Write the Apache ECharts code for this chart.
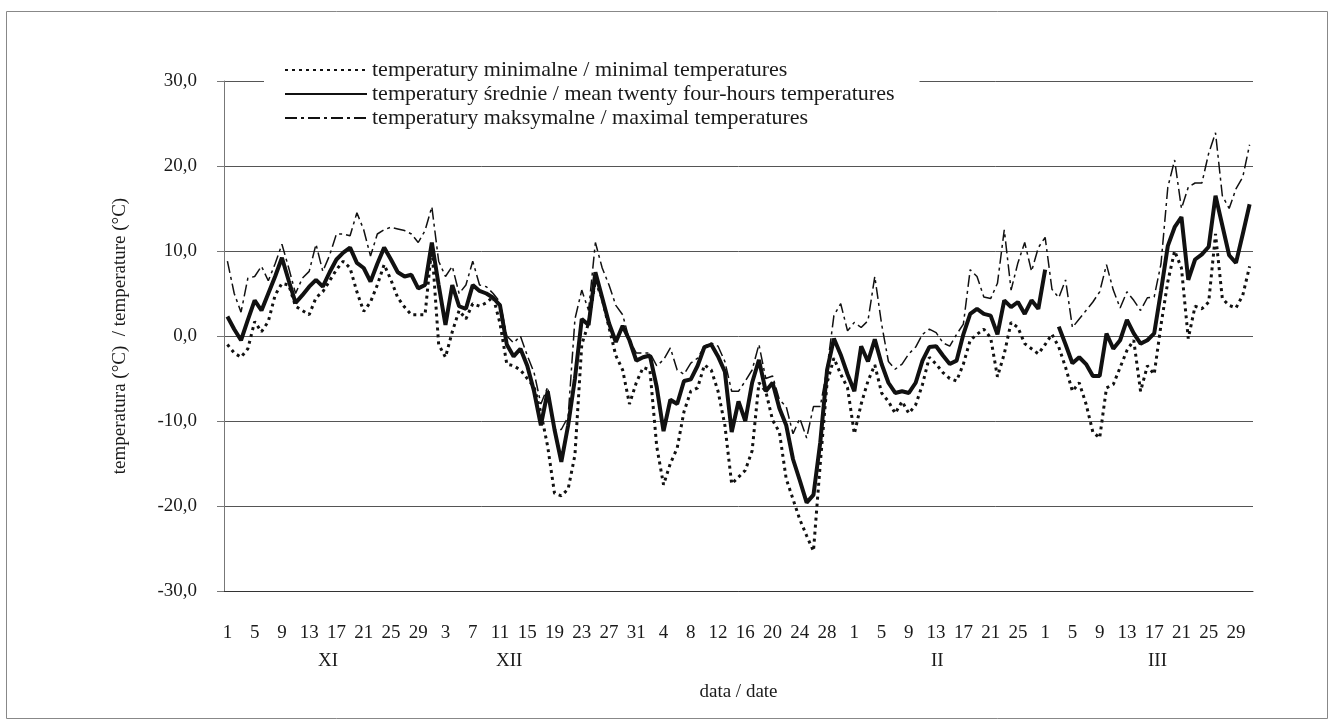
<!DOCTYPE html>
<html>
<head>
<meta charset="utf-8">
<script src="https://cdn.jsdelivr.net/npm/echarts@6/dist/echarts.min.js"></script>
<style>
  html, body { margin: 0; padding: 0; background: #fff; }
  #chart { width: 1334px; height: 725px; }
</style>
</head>
<body>
<div id="chart"></div>
<script>
// miesiące: XI, XII, I, II, III
var monthNames = ['XI', 'XII', 'I', 'II', 'III'];
var monthDays = [30, 31, 31, 28, 31];
var monthLabels = ['XI', 'XII', 'II', 'III'];
var yTicks = [-30, -20, -10, 0, 10, 20, 30];

// temperatury minimalne
var tMin = [
    -1.0, -2.0, -2.5, -1.5, 1.7, 0.5, 1.7, 4.8, 6.2, 6.0,
    3.5, 3.0, 2.5, 4.5, 5.2, 6.5, 7.8, 8.8, 8.0, 5.2,
    2.9, 4.0, 6.0, 8.4, 6.6, 4.5, 3.4, 2.5, 2.5, 2.5,
    10.5, -1.0, -2.5, 0.5, 3.0, 2.0, 3.8, 3.5, 3.9, 4.6,
    1.5, -3.3, -3.5, -4.0, -5.0, -6.0, -9.0, -13.0, -18.5, -18.8,
    -18.0, -14.0, -1.0, 1.5, 6.5, 4.4, 1.0, -2.3, -4.0, -8.0,
    -5.5, -3.7, -4.0, -13.0, -17.5, -15.0, -13.2, -8.9, -6.5, -6.1,
    -3.4, -4.0, -6.5, -10.5, -17.4, -16.6, -15.8, -13.5, -5.5, -6.5,
    -9.9, -11.3, -16.8, -19.2, -21.6, -23.5, -25.3, -15.0, -5.5, -2.6,
    -4.5, -6.1, -11.5, -8.0, -5.3, -3.4, -6.7, -7.7, -9.1, -7.7,
    -9.1, -8.1, -5.7, -2.5, -3.3, -4.3, -5.0, -5.3, -3.3, -0.5,
    0.2, 0.8, -0.2, -4.8, -2.1, 1.6, 1.0, -0.9, -1.5, -2.1,
    -1.0, 0.2, -1.3, -3.7, -6.5, -5.5, -8.0, -11.3, -12.0, -6.1,
    -5.7, -3.7, -1.7, -0.5, -6.5, -3.5, -4.5, 1.3, 6.4, 10.0,
    8.0, -0.3, 3.5, 3.2, 4.0, 12.0, 4.4, 3.6, 3.3, 4.8,
    8.2
];

// temperatury średnie
var tMean = [
    2.3, 0.8, -0.5, 1.9, 4.2, 3.0, 5.0, 7.0, 9.2, 6.5,
    3.9, 4.8, 5.8, 6.6, 5.8, 7.5, 9.0, 9.8, 10.4, 8.6,
    8.0, 6.4, 8.5, 10.4, 9.0, 7.5, 7.0, 7.2, 5.6, 6.0,
    11.0, 6.0, 1.3, 6.0, 3.5, 3.2, 6.0, 5.3, 5.0, 4.5,
    3.6, -1.0, -2.4, -1.5, -3.5, -6.5, -10.5, -6.5, -11.0, -14.8,
    -10.5, -5.0, 2.0, 1.3, 7.5, 4.5, 1.5, -0.7, 1.2, -0.5,
    -2.9, -2.5, -2.3, -6.0, -11.2, -7.5, -8.0, -5.3, -5.1, -3.5,
    -1.3, -1.0, -2.4, -4.2, -11.3, -7.7, -10.0, -5.5, -2.8, -6.5,
    -5.5, -8.5, -10.5, -14.5, -17.0, -19.6, -18.7, -12.5, -4.0, -0.3,
    -2.2, -4.5, -6.5, -1.2, -3.0, -0.4, -3.3, -5.5, -6.7, -6.5,
    -6.7, -5.5, -2.9, -1.3, -1.2, -2.3, -3.3, -2.9, 0.2, 2.6,
    3.2, 2.6, 2.4, 0.2, 4.2, 3.4, 4.0, 2.6, 4.2, 3.2,
    7.8, null, 1.1, -1.0, -3.2, -2.5, -3.3, -4.7, -4.7, 0.3,
    -1.5, -0.5, 1.9, 0.3, -0.9, -0.5, 0.3, 5.3, 10.6, 12.8,
    14.0, 6.6, 9.0, 9.6, 10.5, 16.5, 13.0, 9.5, 8.6, 12.0,
    15.5
];

// temperatury maksymalne
var tMax = [
    8.8, 5.0, 2.8, 6.8, 7.0, 8.2, 6.5, 8.5, 10.8, 8.0,
    5.0, 6.8, 7.6, 10.8, 7.6, 9.5, 12.0, 12.0, 11.8, 14.5,
    12.5, 9.4, 12.0, 12.5, 12.8, 12.6, 12.4, 12.0, 11.0, 12.4,
    15.2, 8.8, 7.0, 8.2, 5.0, 6.0, 8.8, 6.0, 5.8, 5.0,
    4.0, 0.0, -0.8, 0.0, -2.3, -4.3, -8.0, -6.0, -11.0, -11.0,
    -9.5, 2.0, 5.4, 3.0, 11.0, 8.0, 6.0, 3.6, 2.5, -0.5,
    -2.0, -2.0, -2.0, -3.5, -2.8, -1.4, -4.0, -4.5, -3.2, -2.6,
    -1.2, -0.8, -1.2, -3.0, -6.5, -6.5, -5.3, -4.0, -1.0, -5.0,
    -4.7, -7.5, -8.3, -11.5, -9.7, -12.0, -8.3, -8.3, -3.8, 2.4,
    3.8, 0.6, 1.6, 1.0, 1.8, 7.0, 1.4, -3.0, -3.9, -3.3,
    -2.1, -1.3, 0.2, 0.8, 0.4, -0.8, -1.2, 0.2, 1.4, 7.8,
    7.0, 4.6, 4.4, 6.2, 12.5, 5.4, 8.6, 11.0, 7.6, 10.4,
    11.6, 5.5, 4.5, 6.6, 1.0, 2.0, 3.0, 4.0, 5.2, 8.4,
    5.4, 3.3, 5.2, 4.2, 3.0, 4.5, 4.6, 8.5, 17.5, 20.7,
    15.0, 17.5, 18.0, 18.0, 21.5, 23.9, 16.5, 15.0, 17.3, 18.7,
    22.5
];

// kategorie: dni od 1 XI do 31 III
var days = [];
for (var m = 0; m < monthDays.length; m++) {
    for (var d = 1; d <= monthDays[m]; d++) {
        days.push(monthNames[m] + '-' + d);
    }
}

var serif = 'Liberation Serif';
var ink = '#1a1a1a';

var myChart = echarts.init(document.getElementById('chart'));
var option = {
    animation: false,
    backgroundColor: '#fff',
    textStyle: {fontFamily: serif, color: ink},
    grid: {left: 224, right: 81, top: 81, bottom: 134, containLabel: false},
    legend: {
        orient: 'vertical',
        left: 264,
        top: 53,
        padding: [6, 25, 6, 20],
        backgroundColor: '#fff',
        itemWidth: 82,
        itemHeight: 14,
        itemGap: 2,
        itemStyle: {opacity: 0},
        textStyle: {fontFamily: serif, fontSize: 22, color: ink},
        data: ['temperatury minimalne / minimal temperatures',
               'temperatury średnie / mean twenty four-hours temperatures',
               'temperatury maksymalne / maximal temperatures']
    },
    xAxis: {
        type: 'category',
        boundaryGap: true,
        data: days,
        name: 'data / date',
        nameLocation: 'middle',
        nameGap: 92,
        nameTextStyle: {fontFamily: serif, fontSize: 19, color: ink},
        axisLine: {onZero: false, lineStyle: {color: '#333', width: 1}},
        axisTick: {interval: 0, length: 6, lineStyle: {color: '#333'}},
        axisLabel: {
            interval: 3,
            margin: 33,
            fontFamily: serif,
            fontSize: 19,
            color: ink,
            formatter: function (v) { return v.split('-')[1]; }
        },
        splitLine: {show: false}
    },
    yAxis: {
        type: 'value',
        min: yTicks[0],
        max: yTicks[yTicks.length - 1],
        interval: 10,
        name: 'temperatura (°C)  / temperature (°C)',
        nameLocation: 'middle',
        nameRotate: 90,
        nameGap: 94,
        nameTextStyle: {fontFamily: serif, fontSize: 19, color: ink},
        axisLine: {show: true, lineStyle: {color: '#777'}},
        axisTick: {show: true, length: 7, lineStyle: {color: '#777'}},
        axisLabel: {
            margin: 27,
            fontFamily: serif,
            fontSize: 19,
            color: ink,
            formatter: function (v) { return v.toFixed(1).replace('.', ','); }
        },
        splitLine: {lineStyle: {color: '#555', width: 1}}
    },
    series: [
        {
            name: 'temperatury minimalne / minimal temperatures',
            type: 'line',
            data: tMin,
            symbol: 'none',
            color: '#111',
            lineStyle: {color: '#111', width: 3, type: [3, 4]}
        },
        {
            name: 'temperatury średnie / mean twenty four-hours temperatures',
            type: 'line',
            data: tMean,
            symbol: 'none',
            color: '#111',
            lineStyle: {color: '#111', width: 4}
        },
        {
            name: 'temperatury maksymalne / maximal temperatures',
            type: 'line',
            data: tMax,
            symbol: 'none',
            color: '#111',
            lineStyle: {color: '#111', width: 1.5, type: [12, 4, 3, 4]}
        }
    ],
    graphic: [
        {
            type: 'rect',
            silent: true,
            shape: {x: 6.5, y: 11.5, width: 1321, height: 707},
            style: {fill: 'none', stroke: '#888', lineWidth: 1}
        },
        {type: 'text', left: 318, top: 652, style: {text: monthLabels[0], font: '19px "Liberation Serif"', fill: ink}},
        {type: 'text', left: 496, top: 652, style: {text: monthLabels[1], font: '19px "Liberation Serif"', fill: ink}},
        {type: 'text', left: 931, top: 652, style: {text: monthLabels[2], font: '19px "Liberation Serif"', fill: ink}},
        {type: 'text', left: 1148, top: 652, style: {text: monthLabels[3], font: '19px "Liberation Serif"', fill: ink}}
    ]
};
myChart.setOption(option);
</script>
</body>
</html>
